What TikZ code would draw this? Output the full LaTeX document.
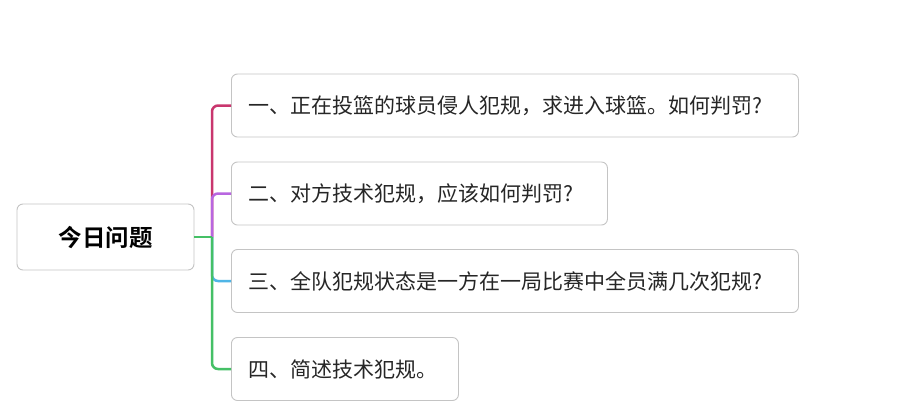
\documentclass[tikz,border=0pt]{standalone}
\usepackage{fontspec}
\setmainfont{Noto Sans CJK SC}
\newfontfamily\cjkbold{Noto Sans CJK SC Bold}
\definecolor{bordergray}{HTML}{C4C4C4}
\definecolor{txtgray}{HTML}{262626}
\definecolor{cRed}{HTML}{C9366E}
\definecolor{cPurple}{HTML}{B866E0}
\definecolor{cBlue}{HTML}{4FB5E6}
\definecolor{cGreen}{HTML}{45C066}
\begin{document}
\begin{tikzpicture}[x=1pt,y=-1pt,
  qbox/.style={draw=bordergray, line width=0.9pt, rounded corners=6pt, fill=white,
    anchor=west, minimum height=63pt, inner xsep=17pt, inner ysep=0pt, align=left,
    font=\fontsize{21}{25}\selectfont, text=txtgray},
  rootbox/.style={draw=bordergray, line width=0.9pt, rounded corners=6pt, fill=white,
    minimum width=177pt, minimum height=66pt, inner sep=0pt,
    font=\cjkbold\fontsize{23.5}{28}\selectfont, text=black},
  branch/.style={line width=2.5pt, rounded corners=6pt}
]
\useasboundingbox (0,0) rectangle (909,415);
\fill[white] (0,0) rectangle (909,415);

\node[rootbox] (root) at (105.5,237) {今日问题};
\coordinate (j) at (212,237);

\node[qbox, text width=533pt] (b1) at (231,105.5) {一、正在投篮的球员侵人犯规，求进入球篮。如何判罚?};
\node[qbox, text width=342pt] (b2) at (231,193.5) {二、对方技术犯规，应该如何判罚?};
\node[qbox, text width=533pt] (b3) at (231,281) {三、全队犯规状态是一方在一局比赛中全员满几次犯规?};
\node[qbox, text width=193pt] (b4) at (231,369) {四、简述技术犯规。};

\draw[branch, cRed] (j) |- (b1.west);
\draw[branch, cPurple] (j) |- (b2.west);
\draw[branch, cBlue] (j) |- (b3.west);
\draw[branch, cGreen] (j) |- (b4.west);
\draw[line width=2.5pt, cGreen] (root.east) -- (j);
\end{tikzpicture}
\end{document}
